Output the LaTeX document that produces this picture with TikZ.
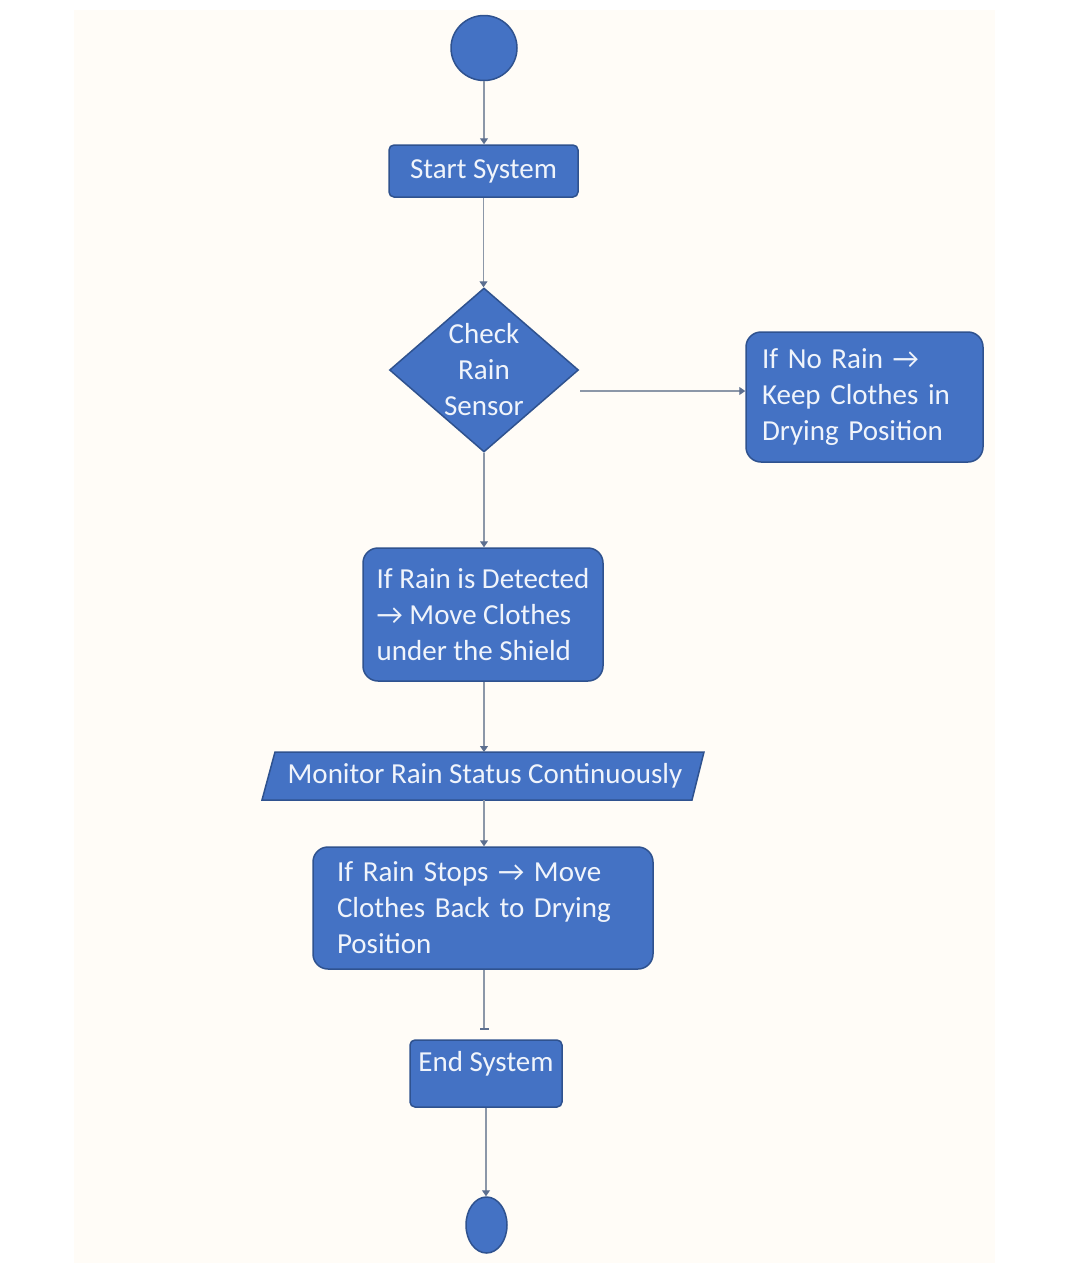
\documentclass[tikz,border=0pt]{standalone}
\usepackage{fontspec}
\setmainfont{Carlito}
\usetikzlibrary{shapes.geometric,arrows.meta}
\definecolor{boxfill}{HTML}{4472C4}
\definecolor{boxedge}{HTML}{2F528F}
\definecolor{boxtext}{HTML}{F0F4FB}
\definecolor{linecol}{HTML}{8C97A8}
\definecolor{tipcol}{HTML}{5C6F90}
\definecolor{panel}{HTML}{FFFCF7}
\tikzset{
  every node/.style={font=\fontsize{29}{36}\selectfont, text=boxtext},
  shapebox/.style={draw=boxedge, fill=boxfill, line width=1.5pt},
  rbox/.style={shapebox, rectangle, rounded corners=15pt, inner sep=0pt},
  sbox/.style={shapebox, rectangle, rounded corners=5pt, inner sep=0pt},
  conn/.style={draw=linecol, line width=1.2pt, -{Triangle[width=8pt,length=6pt,color=tipcol]}},
  connbar/.style={draw=linecol, line width=1.2pt, -{Bar[width=9pt,line width=2.5pt,color=tipcol]}},
}
\begin{document}
\begin{tikzpicture}[x=1pt,y=-1pt]
\useasboundingbox (0,0) rectangle (1080,1267);
\fill[white] (0,0) rectangle (1080,1267);
\fill[panel] (74,10) rectangle (995,1263);

% start
\node[shapebox, ellipse, minimum width=66pt, minimum height=65pt, inner sep=0pt] (start) at (484,48) {};
% start system
\node[sbox, minimum width=189pt, minimum height=52pt] (startsys) at (483.5,171) {Start System};
% decision
\node[shapebox, diamond, minimum width=189pt, minimum height=164pt, inner sep=0pt,
      label={[align=center, text=boxtext]center:Check\\Rain\\Sensor}] (check) at (484,370) {};
% no rain
\node[rbox, minimum width=237pt, minimum height=130pt, text width=205pt, align=left] (norain) at (864.5,397)
  {If No Rain \char"2192\\Keep Clothes in\\Drying Position};
% rain detected
\node[rbox, minimum width=240pt, minimum height=133pt, align=left] (detected) at (483,614.5)
  {If Rain is Detected\\\char"2192{} Move Clothes\\under the Shield};
% monitor parallelogram
\fill[boxfill, draw=boxedge, line width=1.5pt] (262,800) -- (275,752) -- (704,752) -- (692,800) -- cycle;
\node[inner sep=0pt, minimum width=430pt, minimum height=48pt] (monitor) at (485,776) {Monitor Rain Status Continuously};
% rain stops
\node[rbox, minimum width=340pt, minimum height=122pt, text width=292pt, align=left] (stops) at (483,908)
  {If Rain Stops \char"2192{} Move\\Clothes Back to Drying\\Position};
% end system
\node[sbox, minimum width=152pt, minimum height=67pt, label={[yshift=10pt, text=boxtext]center:End System}] (endsys) at (486,1073.5) {};
% end
\node[shapebox, ellipse, minimum width=41pt, minimum height=56pt, inner sep=0pt] (end) at (486.5,1225) {};

% connectors
\draw[conn] (start.south) -- (start.south |- startsys.north);
\draw[conn] (startsys.south) -- (startsys.south |- check.north);
\coordinate (branch) at (580,391);
\draw[conn] (branch) -- (branch -| norain.west);
\draw[conn] (check.south) -- (check.south |- detected.north);
\coordinate (montop) at (484,752);
\coordinate (monbot) at (484,800);
\draw[conn] (montop |- detected.south) -- (montop);
\draw[conn] (monbot) -- (monbot |- stops.north);
\coordinate (barend) at (484,1030);
\draw[connbar] (barend |- stops.south) -- (barend);
\draw[conn] (endsys.south) -- (endsys.south |- end.north);
\end{tikzpicture}
\end{document}
